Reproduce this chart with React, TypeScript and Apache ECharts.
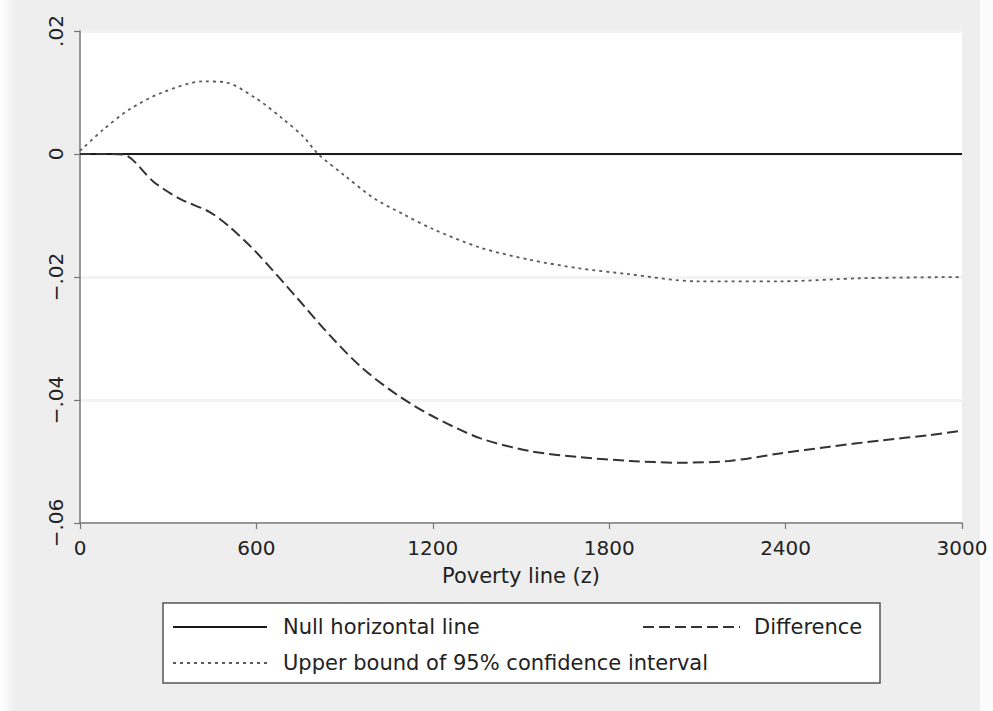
import React, { useEffect, useRef } from "react";
import * as echarts from "echarts";

// ---- data ----
const xAxisMin = 0;
const xAxisMax = 3000;
const xAxisStep = 600;
const yTickLabels = ["−.06", "−.04", "−.02", "0", ".02"];
const yTickValues = [-0.06, -0.04, -0.02, 0, 0.02];

const seriesNames = [
  "Null horizontal line",
  "Difference",
  "Upper bound of 95% confidence interval",
];

const nullX = [0, 3000];
const nullY = [0, 0];

const diffX = [0, 110, 160, 250, 340, 440, 510, 600, 740, 850, 960, 1080, 1190, 1360, 1530, 1700, 1870, 2040, 2210, 2380, 2550, 2720, 2890, 3000];
const diffY = [0, 0, -0.0003, -0.0045, -0.0073, -0.0094, -0.0119, -0.016, -0.0235, -0.0295, -0.0348, -0.0392, -0.0424, -0.0462, -0.0483, -0.0493, -0.0499, -0.0502, -0.0499, -0.0487, -0.0476, -0.0466, -0.0457, -0.045];

const upperX = [0, 80, 170, 280, 420, 490, 600, 690, 760, 810, 900, 1000, 1100, 1200, 1360, 1530, 1700, 1860, 2100, 2380, 2660, 3000];
const upperY = [0.0005, 0.004, 0.0073, 0.01, 0.0118, 0.0117, 0.009, 0.0057, 0.0028, 0, -0.0035, -0.0072, -0.0098, -0.0122, -0.0152, -0.0172, -0.0186, -0.0195, -0.0207, -0.0207, -0.0202, -0.02];

const xAxisTitle = "Poverty line (z)";

const FONT = "DejaVu Sans";

function pairs(xs: number[], ys: number[]) {
  return xs.map((x, i) => [x, ys[i]]);
}

export default function App() {
  const ref = useRef<HTMLDivElement>(null);

  useEffect(() => {
    document.body.style.margin = "0";
    const chart = echarts.init(ref.current!, undefined, { renderer: "svg" });

    const legendTop = 603;
    const legendLeft = 163;
    const row1 = 627;
    const row2 = 663;

    chart.setOption({
      animation: false,
      backgroundColor: "#eeeeee",
      grid: {
        left: 80,
        right: 31,
        top: 31,
        bottom: 188,
        show: true,
        backgroundColor: "#ffffff",
        borderWidth: 0,
      },
      xAxis: {
        type: "value",
        min: xAxisMin,
        max: xAxisMax,
        interval: xAxisStep,
        name: xAxisTitle,
        nameLocation: "middle",
        nameGap: 42,
        nameTextStyle: { fontFamily: FONT, fontSize: 21, color: "#222" },
        axisLine: { show: true, onZero: false, lineStyle: { color: "#777", width: 1.5 } },
        axisTick: { show: true, length: 6, lineStyle: { color: "#777", width: 1.2 } },
        axisLabel: {
          fontFamily: FONT,
          fontSize: 20,
          color: "#222",
          margin: 15,
          formatter: (v: number) => String(v),
        },
        splitLine: { show: false },
      },
      yAxis: {
        type: "value",
        min: yTickValues[0],
        max: yTickValues[yTickValues.length - 1],
        interval: 0.02,
        axisLine: { show: true, onZero: false, lineStyle: { color: "#777", width: 1.5 } },
        axisTick: { show: true, length: 6, lineStyle: { color: "#777", width: 1.2 } },
        axisLabel: {
          fontFamily: FONT,
          fontSize: 20,
          color: "#222",
          rotate: 90,
          margin: 14,
          formatter: (v: number) => {
            const idx = yTickValues.findIndex((t) => Math.abs(t - v) < 1e-9);
            return idx >= 0 ? yTickLabels[idx] : "";
          },
        },
        splitLine: { show: true, lineStyle: { color: "#f3f3f3", width: 3 } },
      },
      series: [
        {
          name: seriesNames[0],
          type: "line",
          data: pairs(nullX, nullY),
          showSymbol: false,
          lineStyle: { color: "#1a1a1a", width: 2 },
          z: 3,
        },
        {
          name: seriesNames[1],
          type: "line",
          data: pairs(diffX, diffY),
          showSymbol: false,
          smooth: 0.3,
          lineStyle: { color: "#333", width: 2, type: [11, 5] },
          z: 4,
        },
        {
          name: seriesNames[2],
          type: "line",
          data: pairs(upperX, upperY),
          showSymbol: false,
          smooth: 0.3,
          lineStyle: { color: "#5a5a5a", width: 1.8, type: [3, 4] },
          z: 4,
        },
      ],
      graphic: [
        {
          type: "rect",
          shape: { x: 0, y: 0, width: 16, height: 711 },
          style: {
            fill: new echarts.graphic.LinearGradient(0, 0, 1, 0, [
              { offset: 0, color: "#ffffff" },
              { offset: 1, color: "#eeeeee" },
            ]),
          },
          silent: true,
        },
        {
          type: "rect",
          shape: { x: 980, y: 0, width: 13, height: 711 },
          style: { fill: "#fbfbfb" },
          silent: true,
        },
        {
          type: "rect",
          shape: { x: legendLeft, y: legendTop, width: 717, height: 80 },
          style: { fill: "#ffffff", stroke: "#555", lineWidth: 1.5 },
          silent: true,
        },
        {
          type: "line",
          shape: { x1: 173, y1: row1, x2: 267, y2: row1 },
          style: { stroke: "#1a1a1a", lineWidth: 2 },
          silent: true,
        },
        {
          type: "text",
          x: 283,
          y: row1,
          style: { text: seriesNames[0], fontFamily: FONT, fontSize: 21, fill: "#222", verticalAlign: "middle", align: "left" },
          silent: true,
        },
        {
          type: "line",
          shape: { x1: 643, y1: row1, x2: 740, y2: row1 },
          style: { stroke: "#333", lineWidth: 2, lineDash: [11, 5] },
          silent: true,
        },
        {
          type: "text",
          x: 754,
          y: row1,
          style: { text: seriesNames[1], fontFamily: FONT, fontSize: 21, fill: "#222", verticalAlign: "middle", align: "left" },
          silent: true,
        },
        {
          type: "line",
          shape: { x1: 173, y1: row2, x2: 267, y2: row2 },
          style: { stroke: "#5a5a5a", lineWidth: 1.8, lineDash: [3, 4] },
          silent: true,
        },
        {
          type: "text",
          x: 283,
          y: row2,
          style: { text: seriesNames[2], fontFamily: FONT, fontSize: 21, fill: "#222", verticalAlign: "middle", align: "left" },
          silent: true,
        },
      ],
    });

    return () => chart.dispose();
  }, []);

  return <div ref={ref} style={{ width: 993, height: 711 }} />;
}
